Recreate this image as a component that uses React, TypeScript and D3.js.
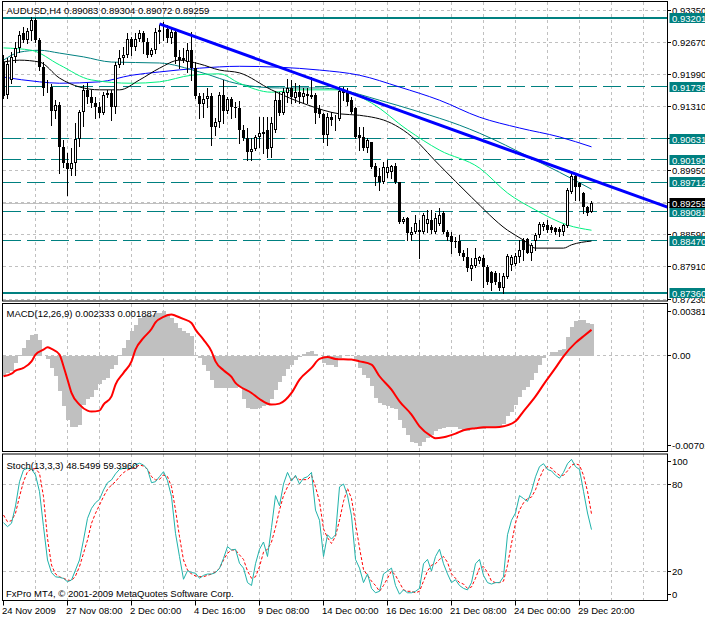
import React from "react";
import * as d3 from "d3";

// ---------------- DATA ----------------
const symbolTitle = "AUDUSD,H4 0.89083 0.89304 0.89072 0.89259";
const macdTitle = "MACD(12,26,9) 0.002333 0.001887";
const stochTitle = "Stoch(13,3,3) 48.5499 59.3960";
const copyright = "FxPro MT4, © 2001-2009 MetaQuotes Software Corp.";

const timeLabels = ["24 Nov 2009", "27 Nov 08:00", "2 Dec 00:00", "4 Dec 16:00", "9 Dec 08:00", "14 Dec 00:00", "16 Dec 16:00", "21 Dec 08:00", "24 Dec 00:00", "29 Dec 20:00"];
const timeLabelBars = [0, 16, 32, 48, 64, 80, 96, 112, 128, 144];

const priceTicks = [0.9335, 0.9267, 0.9199, 0.9131, 0.9063, 0.8995, 0.8927, 0.8859, 0.8791, 0.8723];
const solidLevels = [0.93201, 0.8736];
const dashedLevels = [0.91736, 0.90631, 0.9019, 0.89712, 0.89081, 0.8847];
const lastPrice = 0.89259;

const open = [
  0.9226, 0.9156, 0.9188, 0.9237, 0.9256, 0.9288, 0.9273, 0.9292, 0.9315, 0.9273,
  0.9215, 0.9171, 0.9173, 0.9122, 0.9135, 0.9046, 0.9012, 0.8999, 0.9012, 0.9063,
  0.912, 0.9167, 0.9152, 0.9139, 0.913, 0.9118, 0.9156, 0.916, 0.913, 0.922,
  0.9234, 0.9241, 0.9275, 0.9258, 0.9275, 0.9288, 0.9268, 0.9241, 0.9251, 0.929,
  0.9294, 0.9296, 0.9277, 0.929, 0.9237, 0.923, 0.9226, 0.9251, 0.9213, 0.9154,
  0.9137, 0.9147, 0.9154, 0.9088, 0.9099, 0.9156, 0.9122, 0.9147, 0.913, 0.9128,
  0.9082, 0.9065, 0.9035, 0.9041, 0.9067, 0.9073, 0.9082, 0.9043, 0.9082, 0.9145,
  0.9118, 0.916, 0.9171, 0.915, 0.9162, 0.9152, 0.9154, 0.9152, 0.9156, 0.9126,
  0.9116, 0.9071, 0.9109, 0.9103, 0.9105, 0.9167, 0.9162, 0.9145, 0.9128, 0.9071,
  0.9067, 0.9043, 0.9056, 0.9005, 0.8984, 0.8971, 0.899, 0.8992, 0.9005, 0.8971,
  0.8886, 0.8895, 0.8859, 0.8865, 0.8865, 0.8865, 0.8882, 0.8891, 0.8865, 0.8882,
  0.8905, 0.8865, 0.8857, 0.8846, 0.8846, 0.8821, 0.8812, 0.8787, 0.8793, 0.8804,
  0.881, 0.8791, 0.878, 0.8778, 0.8759, 0.8746, 0.877, 0.8795, 0.8797, 0.8812,
  0.8848, 0.885, 0.8821, 0.8846, 0.8859, 0.8876, 0.888, 0.8876, 0.8874, 0.8871,
  0.8865, 0.8878, 0.895, 0.8984, 0.8969, 0.8948, 0.8918, 0.89083,
];
const high = [
  0.9241, 0.9234, 0.9247, 0.9268, 0.9292, 0.93, 0.9298, 0.9321, 0.9319, 0.9277,
  0.9226, 0.9188, 0.9179, 0.9145, 0.9141, 0.906, 0.9033, 0.9043, 0.9096, 0.9124,
  0.9177, 0.9181, 0.9167, 0.9152, 0.9141, 0.9162, 0.9167, 0.9167, 0.9226, 0.9251,
  0.9258, 0.9288, 0.9279, 0.9288, 0.9294, 0.9292, 0.9277, 0.9256, 0.9298, 0.9304,
  0.9311, 0.9304, 0.9298, 0.9294, 0.9251, 0.9256, 0.9266, 0.929, 0.9226, 0.916,
  0.916, 0.9171, 0.916, 0.9107, 0.9162, 0.9188, 0.9152, 0.9152, 0.9141, 0.9143,
  0.9092, 0.9086, 0.9065, 0.9071, 0.9109, 0.9109, 0.9109, 0.9109, 0.9164, 0.9162,
  0.9171, 0.919, 0.9188, 0.9181, 0.9177, 0.9171, 0.9171, 0.9194, 0.916, 0.9135,
  0.9118, 0.9118, 0.912, 0.9113, 0.9173, 0.9173, 0.9171, 0.9152, 0.913, 0.9088,
  0.9088, 0.9065, 0.9056, 0.9012, 0.9001, 0.9014, 0.9018, 0.9007, 0.9012, 0.8971,
  0.8897, 0.8897, 0.8876, 0.8901, 0.8891, 0.8905, 0.8912, 0.8912, 0.8905, 0.8916,
  0.891, 0.8869, 0.8865, 0.8854, 0.8859, 0.8827, 0.8831, 0.881, 0.8831, 0.8814,
  0.8816, 0.8795, 0.8782, 0.8782, 0.8778, 0.8778, 0.8818, 0.8816, 0.8821, 0.8848,
  0.8852, 0.8852, 0.8842, 0.8863, 0.8886, 0.8886, 0.8891, 0.888, 0.8876, 0.8876,
  0.8882, 0.8958, 0.899, 0.899, 0.8971, 0.895, 0.892, 0.89304,
];
const low = [
  0.915, 0.915, 0.9181, 0.9226, 0.9247, 0.9268, 0.9266, 0.9273, 0.9268, 0.9209,
  0.9156, 0.9162, 0.9092, 0.9107, 0.899, 0.9003, 0.8944, 0.8986, 0.8986, 0.9048,
  0.909, 0.9139, 0.913, 0.9107, 0.9109, 0.9116, 0.9152, 0.9103, 0.9118, 0.9215,
  0.9222, 0.9237, 0.9241, 0.9251, 0.9271, 0.9245, 0.9237, 0.9239, 0.9245, 0.9266,
  0.9273, 0.9268, 0.9266, 0.9224, 0.9213, 0.9226, 0.9205, 0.9188, 0.915, 0.9107,
  0.9109, 0.913, 0.905, 0.9071, 0.9088, 0.9096, 0.9118, 0.9107, 0.9109, 0.9054,
  0.906, 0.9018, 0.9018, 0.9039, 0.9046, 0.9033, 0.9024, 0.9024, 0.9077, 0.9113,
  0.9116, 0.9141, 0.9139, 0.9141, 0.9139, 0.9141, 0.9139, 0.915, 0.9096, 0.9109,
  0.9056, 0.905, 0.9092, 0.9082, 0.9103, 0.9145, 0.9135, 0.9118, 0.9065, 0.9039,
  0.9039, 0.9035, 0.9001, 0.8965, 0.8954, 0.8969, 0.8982, 0.898, 0.8969, 0.8884,
  0.8884, 0.8848, 0.8848, 0.8863, 0.881, 0.8863, 0.8865, 0.8863, 0.8863, 0.888,
  0.8863, 0.8848, 0.8821, 0.8833, 0.8816, 0.8806, 0.8782, 0.8763, 0.8791, 0.8799,
  0.8748, 0.8755, 0.8742, 0.8755, 0.8742, 0.8736, 0.8767, 0.8784, 0.8795, 0.8801,
  0.8806, 0.8821, 0.8806, 0.8827, 0.8854, 0.8869, 0.8865, 0.8865, 0.8861, 0.8857,
  0.8859, 0.8876, 0.8948, 0.8933, 0.8933, 0.8905, 0.8901, 0.89072,
];
const close = [
  0.9154, 0.9222, 0.9237, 0.9256, 0.9283, 0.9273, 0.9292, 0.9315, 0.9273, 0.9215,
  0.9171, 0.9173, 0.9122, 0.9135, 0.9046, 0.9012, 0.8999, 0.9012, 0.9063, 0.912,
  0.9167, 0.9152, 0.9139, 0.913, 0.9118, 0.9156, 0.916, 0.913, 0.922, 0.9234,
  0.9241, 0.9275, 0.9258, 0.9275, 0.9288, 0.9268, 0.9241, 0.9251, 0.929, 0.9294,
  0.9296, 0.9277, 0.929, 0.9237, 0.923, 0.9234, 0.9251, 0.9213, 0.9154, 0.9137,
  0.9147, 0.9154, 0.9088, 0.9099, 0.9156, 0.9122, 0.9147, 0.913, 0.9128, 0.9082,
  0.9065, 0.9035, 0.9041, 0.9067, 0.9075, 0.9077, 0.9041, 0.9096, 0.9145, 0.9118,
  0.9162, 0.9171, 0.9152, 0.9162, 0.9152, 0.916, 0.9158, 0.9156, 0.9118, 0.9116,
  0.9071, 0.9109, 0.9103, 0.9105, 0.9164, 0.916, 0.9141, 0.912, 0.9067, 0.9065,
  0.9043, 0.906, 0.9003, 0.8982, 0.8971, 0.9003, 0.9003, 0.9005, 0.8971, 0.8886,
  0.8893, 0.8863, 0.8865, 0.8884, 0.8869, 0.8901, 0.8893, 0.8869, 0.8895, 0.8901,
  0.8865, 0.8854, 0.8844, 0.8844, 0.8821, 0.8812, 0.8789, 0.8795, 0.881, 0.8812,
  0.8791, 0.8759, 0.8757, 0.8759, 0.8746, 0.8772, 0.8814, 0.8812, 0.8814, 0.8827,
  0.8827, 0.8821, 0.8838, 0.8859, 0.8882, 0.8882, 0.8869, 0.8869, 0.8865, 0.8865,
  0.888, 0.8954, 0.8984, 0.8961, 0.8961, 0.8918, 0.8905, 0.89259,
];

// moving averages: [bar, price]
const maBlue: [number, number][] = [[0, 0.9194], [9, 0.9184], [14, 0.9181], [24, 0.9184], [32, 0.9198], [39, 0.9205], [49, 0.9213], [59, 0.9217], [69, 0.9215], [79, 0.9209], [89, 0.9198], [99, 0.9173], [109, 0.9145], [119, 0.9109], [129, 0.9086], [139, 0.9067], [147, 0.9046]];
const maTeal: [number, number][] = [[0, 0.923], [4, 0.9247], [9, 0.9251], [14, 0.9245], [20, 0.9237], [27, 0.9226], [39, 0.9224], [49, 0.9205], [59, 0.9179], [69, 0.9171], [79, 0.9171], [84, 0.9167], [94, 0.9145], [104, 0.912], [114, 0.9092], [119, 0.9075], [132, 0.9022], [139, 0.8992], [147, 0.8956]];
const maGreen: [number, number][] = [[0, 0.9256], [7, 0.9251], [14, 0.922], [22, 0.9188], [32, 0.9181], [39, 0.9184], [47, 0.9198], [54, 0.9201], [59, 0.9181], [67, 0.9162], [74, 0.9167], [84, 0.9167], [92, 0.9139], [101, 0.9082], [109, 0.9039], [119, 0.9001], [126, 0.8948], [133, 0.8912], [141, 0.888], [147, 0.8869]];
const maBlack: [number, number][] = [[0, 0.9226], [4, 0.923], [9, 0.9226], [14, 0.9192], [19, 0.9173], [24, 0.9167], [29, 0.9167], [34, 0.9188], [39, 0.9213], [44, 0.923], [49, 0.9222], [54, 0.9209], [59, 0.9203], [67, 0.9167], [76, 0.9135], [84, 0.9116], [89, 0.9113], [97, 0.9096], [101, 0.9075], [109, 0.9007], [117, 0.8939], [126, 0.8869], [130, 0.8848], [133, 0.8831], [140, 0.8831], [142, 0.8838], [147, 0.8846]];
const trendLine: [number, number][] = [[39, 0.9307], [166, 0.8918]];

// MACD histogram per bar
const macdHist = [
  -0.00151, -0.0013, -0.00115, -0.00053, 0.00002, 0.00056, 0.00117, 0.00154, 0.00156, 0.00112,
  -0.00002, -0.00022, -0.00088, -0.0015, -0.0026, -0.0037, -0.00468, -0.0052, -0.0052, -0.0051,
  -0.0036, -0.0032, -0.003, -0.0025, -0.0021, -0.0018, -0.0016, -0.001, -0.00066, 0.00002,
  0.00056, 0.00117, 0.00178, 0.00227, 0.00276, 0.00292, 0.003, 0.003, 0.00312, 0.00312,
  0.00324, 0.00307, 0.00276, 0.0024, 0.002, 0.00178, 0.00166, 0.00141, 0.00002, -0.00017,
  -0.00066, -0.00115, -0.00175, -0.00236, -0.0024, -0.0024, -0.0024, -0.0024, -0.0024, -0.0023,
  -0.0032, -0.0038, -0.0039, -0.0039, -0.0038, -0.0037, -0.0036, -0.0032, -0.0025, -0.0019,
  -0.0015, -0.001, -0.00066, -0.00034, -0.0001, 0.00012, 0.00024, 0.00037, 0.00015, 0.0,
  -0.00053, -0.00066, -0.0007, -0.00085, -0.00017, 0.0, 0.00007, 0.0, -0.0003, -0.0009,
  -0.0014, -0.0016, -0.0022, -0.0031, -0.0035, -0.0036, -0.0037, -0.0038, -0.0039, -0.0047,
  -0.0053, -0.0058, -0.0063, -0.0064, -0.0066, -0.0063, -0.006, -0.0058, -0.0055, -0.0054,
  -0.0053, -0.0052, -0.0052, -0.0052, -0.0054, -0.0055, -0.0055, -0.0054, -0.0054, -0.0054,
  -0.0054, -0.0053, -0.0053, -0.0053, -0.0052, -0.005, -0.0044, -0.0041, -0.0036, -0.003,
  -0.0025, -0.0023, -0.0018, -0.0013, -0.00066, -0.00017, 0.0, 0.00024, 0.0003, 0.0004,
  0.0005, 0.00137, 0.0021, 0.0025, 0.0026, 0.00258, 0.0024, 0.002333,
];
// MACD signal: [bar, value]
const macdSignal: [number, number][] = [[0, -0.00151], [2, -0.00132], [3, -0.0011], [5, -0.0009], [7, -0.00042], [8, 0.00007], [10, 0.00044], [11, 0.00061], [12, 0.00049], [14, 0.00007], [15, -0.00078], [16, -0.00175], [17, -0.00273], [19, -0.00358], [21, -0.00402], [22, -0.00409], [24, -0.00402], [25, -0.00358], [27, -0.00298], [28, -0.00212], [30, -0.00126], [32, -0.00042], [33, 0.00044], [35, 0.00129], [37, 0.00195], [38, 0.00243], [40, 0.00283], [42, 0.003], [43, 0.00292], [45, 0.00268], [47, 0.00239], [48, 0.0019], [50, 0.00117], [52, 0.00031], [53, -0.00042], [55, -0.00107], [57, -0.00156], [58, -0.002], [59, -0.00224], [62, -0.00273], [64, -0.00317], [67, -0.00358], [69, -0.00351], [72, -0.00273], [74, -0.00175], [77, -0.0009], [79, -0.00024], [81, -0.0001], [83, -0.00024], [87, -0.00029], [89, -0.00042], [92, -0.00066], [94, -0.00151], [97, -0.00249], [99, -0.00334], [102, -0.00431], [104, -0.00517], [107, -0.0059], [108, -0.00605], [110, -0.00597], [113, -0.0057], [115, -0.00546], [118, -0.00531], [120, -0.00524], [123, -0.00524], [125, -0.00517], [128, -0.0048], [130, -0.00407], [133, -0.00298], [135, -0.00212], [138, -0.0009], [140, -0.00005], [143, 0.00093], [145, 0.00141], [147, 0.001887]];
const macdTicks = ["0.00381", "0.00", "-0.00701"];
const macdTickValues = [0.00381, 0, -0.00701];

// Stochastic
const stochK = [
  53.3, 50.6, 52.9, 64.8, 81.6, 89.7, 90.8, 90.3, 86.2, 74.7,
  50.6, 27.6, 18.9, 16, 15.6, 14.9, 12.6, 13.8, 20.7, 27.6,
  41.4, 56.3, 63.2, 67.1, 69.4, 75.9, 80.9, 82.8, 87, 90.1,
  90.8, 90.8, 90.8, 93.3, 94.3, 93.1, 90.1, 80.9, 81.6, 85.1,
  88.5, 82.3, 71.3, 46, 29.9, 14.3, 20.2, 18.9, 18.5, 15,
  17, 17.9, 17.9, 18.9, 21.8, 28.7, 36.8, 34.5, 35, 25.3,
  22, 12, 10, 25, 35, 40, 30, 50, 72, 65,
  80, 88, 82, 86, 80, 84, 85, 88, 62, 55,
  30, 45, 42, 45, 78, 80, 72, 58, 28, 22,
  12, 18, 8, 5, 6, 18, 20, 22, 10, 4,
  7, 5, 5, 6, 8, 25, 28, 20, 30, 35,
  25, 18, 12, 14, 10, 8, 7, 12, 25, 28,
  17, 12, 11, 12, 12, 16, 45, 55, 60, 72,
  70, 68, 75, 85, 92, 94, 90, 89, 86, 84,
  88, 94, 97, 92, 90, 75, 60, 48.5499,
];
const stochD = [
  58.6, 54, 54.7, 59.8, 71.3, 81.6, 88.5, 90.3, 90.6, 87.4,
  71.3, 42.5, 24.1, 17.9, 16, 14.9, 13.8, 13.3, 16.6, 23,
  32.2, 41.4, 52.9, 59.8, 65.5, 71.3, 76.3, 79.3, 81.6, 85.1,
  87.8, 89.7, 90.6, 91.5, 93.1, 92.4, 90.1, 85.1, 82.8, 83.2,
  86.2, 85.1, 78.2, 62.1, 43.7, 27.6, 20.7, 17.9, 16.6, 16.1,
  16.1, 17, 17.9, 19.3, 21.8, 27.6, 32.2, 34.5, 34.5, 31.1,
  28, 20, 15, 16, 23, 33, 35, 40, 50, 62,
  72, 78, 83, 85, 83, 83, 83, 86, 78, 68,
  49, 43, 39, 44, 55, 68, 77, 70, 53, 36,
  21, 17, 13, 10, 6, 10, 15, 20, 17, 12,
  7, 6, 6, 5, 6, 13, 20, 24, 25, 28,
  30, 26, 18, 15, 12, 11, 8, 9, 15, 22,
  23, 19, 13, 12, 12, 13, 24, 39, 53, 62,
  67, 70, 71, 76, 84, 90, 92, 91, 88, 86,
  86, 89, 93, 94, 93, 86, 75, 59.396,
];
const stochTicks = [100, 80, 20, 0];

// ---------------- CHART ----------------
const FONT = "'Liberation Sans', Arial, sans-serif";
const FS = 9.5;
const TEAL = "#008080";
const GRID = "#c0c0c0";

export default function App() {
  const W = 705, H = 618;
  const L = 2.5, R = 667.5;
  const P = { top: 1.5, bottom: 301 };
  const M = { top: 303.5, bottom: 451.5 };
  const S = { top: 454, bottom: 600.5 };

  const x = d3.scaleLinear().domain([0, 166]).range([3.5, 667.5]);
  const yP = d3.scaleLinear().domain([0.8723, 0.9335]).range([299, 10.7]);
  const yM = d3.scaleLinear().domain([-0.00701, 0.00381]).range([451.5, 303.5]);
  const yS = d3.scaleLinear().domain([0, 100]).range([600, 455]);

  const maLine = d3.line<[number, number]>().x((d) => x(d[0])).y((d) => yP(d[1])).curve(d3.curveMonotoneX);
  const sigLine = d3.line<[number, number]>().x((d) => x(d[0])).y((d) => yM(d[1])).curve(d3.curveMonotoneX);
  const stLine = d3.line<number>().x((_, i) => x(i)).y((d) => yS(d));

  const vGrid = d3.range(8, 166, 8);
  const crisp = (v: number) => Math.round(v - 0.5) + 0.5;

  const candles = open.map((o, i) => {
    const c = close[i];
    const cx = x(i);
    const yHi = yP(high[i]);
    const yLo = yP(low[i]);
    const t = Math.round(yP(Math.max(o, c)));
    const b = Math.round(yP(Math.min(o, c)));
    const bull = c > o;
    return (
      <g key={i}>
        <line x1={cx} x2={cx} y1={Math.round(yHi)} y2={Math.round(yLo) + 1} stroke="#000" strokeWidth={1} />
        {bull ? (
          <rect x={cx - 1} y={t + 0.5} width={2} height={Math.max(b - t - 1, 0)} fill="#fff" stroke="#000" strokeWidth={1} />
        ) : (
          <rect x={cx - 1.5} y={t} width={3} height={Math.max(b - t, 1)} fill="#000" />
        )}
      </g>
    );
  });

  const labelY = (v: number, top: number, bottom: number) => Math.min(Math.max(v, top + 7.5), bottom - 6);

  return (
    <svg width={W} height={H} style={{ position: "absolute", left: 0, top: 0, background: "#fff" }} fontFamily={FONT} fontSize={FS}>
      <defs>
        <clipPath id="cp"><rect x={L} y={P.top} width={R - L} height={P.bottom - P.top} /></clipPath>
        <clipPath id="cm"><rect x={L} y={M.top} width={R - L} height={M.bottom - M.top} /></clipPath>
        <clipPath id="cs"><rect x={L} y={S.top} width={R - L} height={S.bottom - S.top} /></clipPath>
      </defs>
      <rect x={0} y={0} width={W} height={H} fill="#fff" />

      {/* ---------- PRICE PANEL ---------- */}
      <g clipPath="url(#cp)">
        {priceTicks.map((p) => (
          <line key={p} x1={L} x2={R} y1={crisp(yP(p))} y2={crisp(yP(p))} stroke={GRID} strokeDasharray="3,3" shapeRendering="crispEdges" />
        ))}
        {vGrid.map((b) => (
          <line key={b} x1={x(b)} x2={x(b)} y1={P.top} y2={P.bottom} stroke={GRID} strokeDasharray="3,3" shapeRendering="crispEdges" />
        ))}
        {dashedLevels.map((p) => (
          <line key={p} x1={L} x2={R} y1={crisp(yP(p))} y2={crisp(yP(p))} stroke={TEAL} strokeWidth={1} strokeDasharray="18,6" shapeRendering="crispEdges" />
        ))}
        {solidLevels.map((p) => (
          <line key={p} x1={L} x2={R} y1={Math.round(yP(p))} y2={Math.round(yP(p))} stroke={TEAL} strokeWidth={2} shapeRendering="crispEdges" />
        ))}
        <line x1={L} x2={R} y1={crisp(yP(lastPrice))} y2={crisp(yP(lastPrice))} stroke={GRID} strokeWidth={1} shapeRendering="crispEdges" />
        <path d={maLine(maBlue) || ""} fill="none" stroke="#0000ff" strokeWidth={1} />
        <path d={maLine(maTeal) || ""} fill="none" stroke={TEAL} strokeWidth={1} />
        <path d={maLine(maGreen) || ""} fill="none" stroke="#00f080" strokeWidth={1} />
        <path d={maLine(maBlack) || ""} fill="none" stroke="#000" strokeWidth={1} />
        {candles}
        <line x1={x(trendLine[0][0])} y1={yP(trendLine[0][1])} x2={x(trendLine[1][0])} y2={yP(trendLine[1][1])} stroke="#0000ff" strokeWidth={3} />
        <text x={6.5} y={14.3} fill="#000">{symbolTitle}</text>
      </g>
      <rect x={L} y={P.top} width={R - L} height={P.bottom - P.top} fill="none" stroke="#000" strokeWidth={1} />

      {/* ---------- MACD PANEL ---------- */}
      <g clipPath="url(#cm)">
        {vGrid.map((b) => (
          <line key={b} x1={x(b)} x2={x(b)} y1={M.top} y2={M.bottom} stroke={GRID} strokeDasharray="3,3" shapeRendering="crispEdges" />
        ))}
        {macdHist.map((v, i) => {
          const y0 = yM(0);
          const y1 = yM(v);
          return <rect key={i} x={x(i) - 2} y={Math.min(y0, y1)} width={4} height={Math.abs(y1 - y0)} fill={GRID} shapeRendering="crispEdges" />;
        })}
        <line x1={L} x2={R} y1={crisp(yM(0))} y2={crisp(yM(0))} stroke={GRID} strokeDasharray="3,3" shapeRendering="crispEdges" />
        <path d={sigLine(macdSignal) || ""} fill="none" stroke="#ff0000" strokeWidth={2} />
        <text x={6.5} y={317} fill="#000">{macdTitle}</text>
      </g>
      <rect x={L} y={M.top} width={R - L} height={M.bottom - M.top} fill="none" stroke="#000" strokeWidth={1} />

      {/* ---------- STOCH PANEL ---------- */}
      <g clipPath="url(#cs)">
        {vGrid.map((b) => (
          <line key={b} x1={x(b)} x2={x(b)} y1={S.top} y2={S.bottom} stroke={GRID} strokeDasharray="3,3" shapeRendering="crispEdges" />
        ))}
        {[80, 20].map((v) => (
          <line key={v} x1={L} x2={R} y1={crisp(yS(v))} y2={crisp(yS(v))} stroke={GRID} strokeDasharray="3,3" shapeRendering="crispEdges" />
        ))}
        <path d={stLine(stochD) || ""} fill="none" stroke="#ff0000" strokeWidth={1} strokeDasharray="3,2" />
        <path d={stLine(stochK) || ""} fill="none" stroke="#20b2aa" strokeWidth={1} />
        <text x={6.5} y={469} fill="#000">{stochTitle}</text>
        <text x={6} y={596.5} fill="#000">{copyright}</text>
      </g>
      <rect x={L} y={S.top} width={R - L} height={S.bottom - S.top} fill="none" stroke="#000" strokeWidth={1} />

      {/* ---------- RIGHT AXIS ---------- */}
      {priceTicks.map((p) => {
        const yy = yP(p);
        return (
          <g key={p}>
            <line x1={R} x2={R + 3.5} y1={crisp(yy)} y2={crisp(yy)} stroke="#000" shapeRendering="crispEdges" />
            <text x={672} y={yy + 3.5} fill="#000">{p.toFixed(5)}</text>
          </g>
        );
      })}
      {[...solidLevels, ...dashedLevels].map((p) => {
        const yy = yP(p);
        return (
          <g key={"b" + p}>
            <rect x={669.5} y={Math.round(yy) - 5} width={40} height={10} fill={TEAL} />
            <text x={672} y={Math.round(yy) + 3.5} fill="#fff">{p.toFixed(5)}</text>
          </g>
        );
      })}
      <rect x={669.5} y={Math.round(yP(lastPrice)) - 5} width={40} height={10} fill="#000" />
      <text x={672} y={Math.round(yP(lastPrice)) + 3.5} fill="#fff">{lastPrice.toFixed(5)}</text>

      {macdTickValues.map((v, i) => {
        const yy = labelY(yM(v), M.top, M.bottom);
        return (
          <g key={"m" + i}>
            <line x1={R} x2={R + 3.5} y1={crisp(yy)} y2={crisp(yy)} stroke="#000" shapeRendering="crispEdges" />
            <text x={672} y={yy + 3.5} fill="#000">{macdTicks[i]}</text>
          </g>
        );
      })}
      {stochTicks.map((v) => {
        const yy = labelY(yS(v), S.top, S.bottom);
        return (
          <g key={"s" + v}>
            <line x1={R} x2={R + 3.5} y1={crisp(yy)} y2={crisp(yy)} stroke="#000" shapeRendering="crispEdges" />
            <text x={672} y={yy + 3.5} fill="#000">{v}</text>
          </g>
        );
      })}

      {/* ---------- TIME AXIS ---------- */}
      {timeLabelBars.map((b, i) => (
        <g key={"t" + b}>
          <line x1={x(b)} x2={x(b)} y1={S.bottom} y2={S.bottom + 5} stroke="#000" />
          <text x={x(b) - 1.5} y={614} fill="#000">{timeLabels[i]}</text>
        </g>
      ))}
    </svg>
  );
}
